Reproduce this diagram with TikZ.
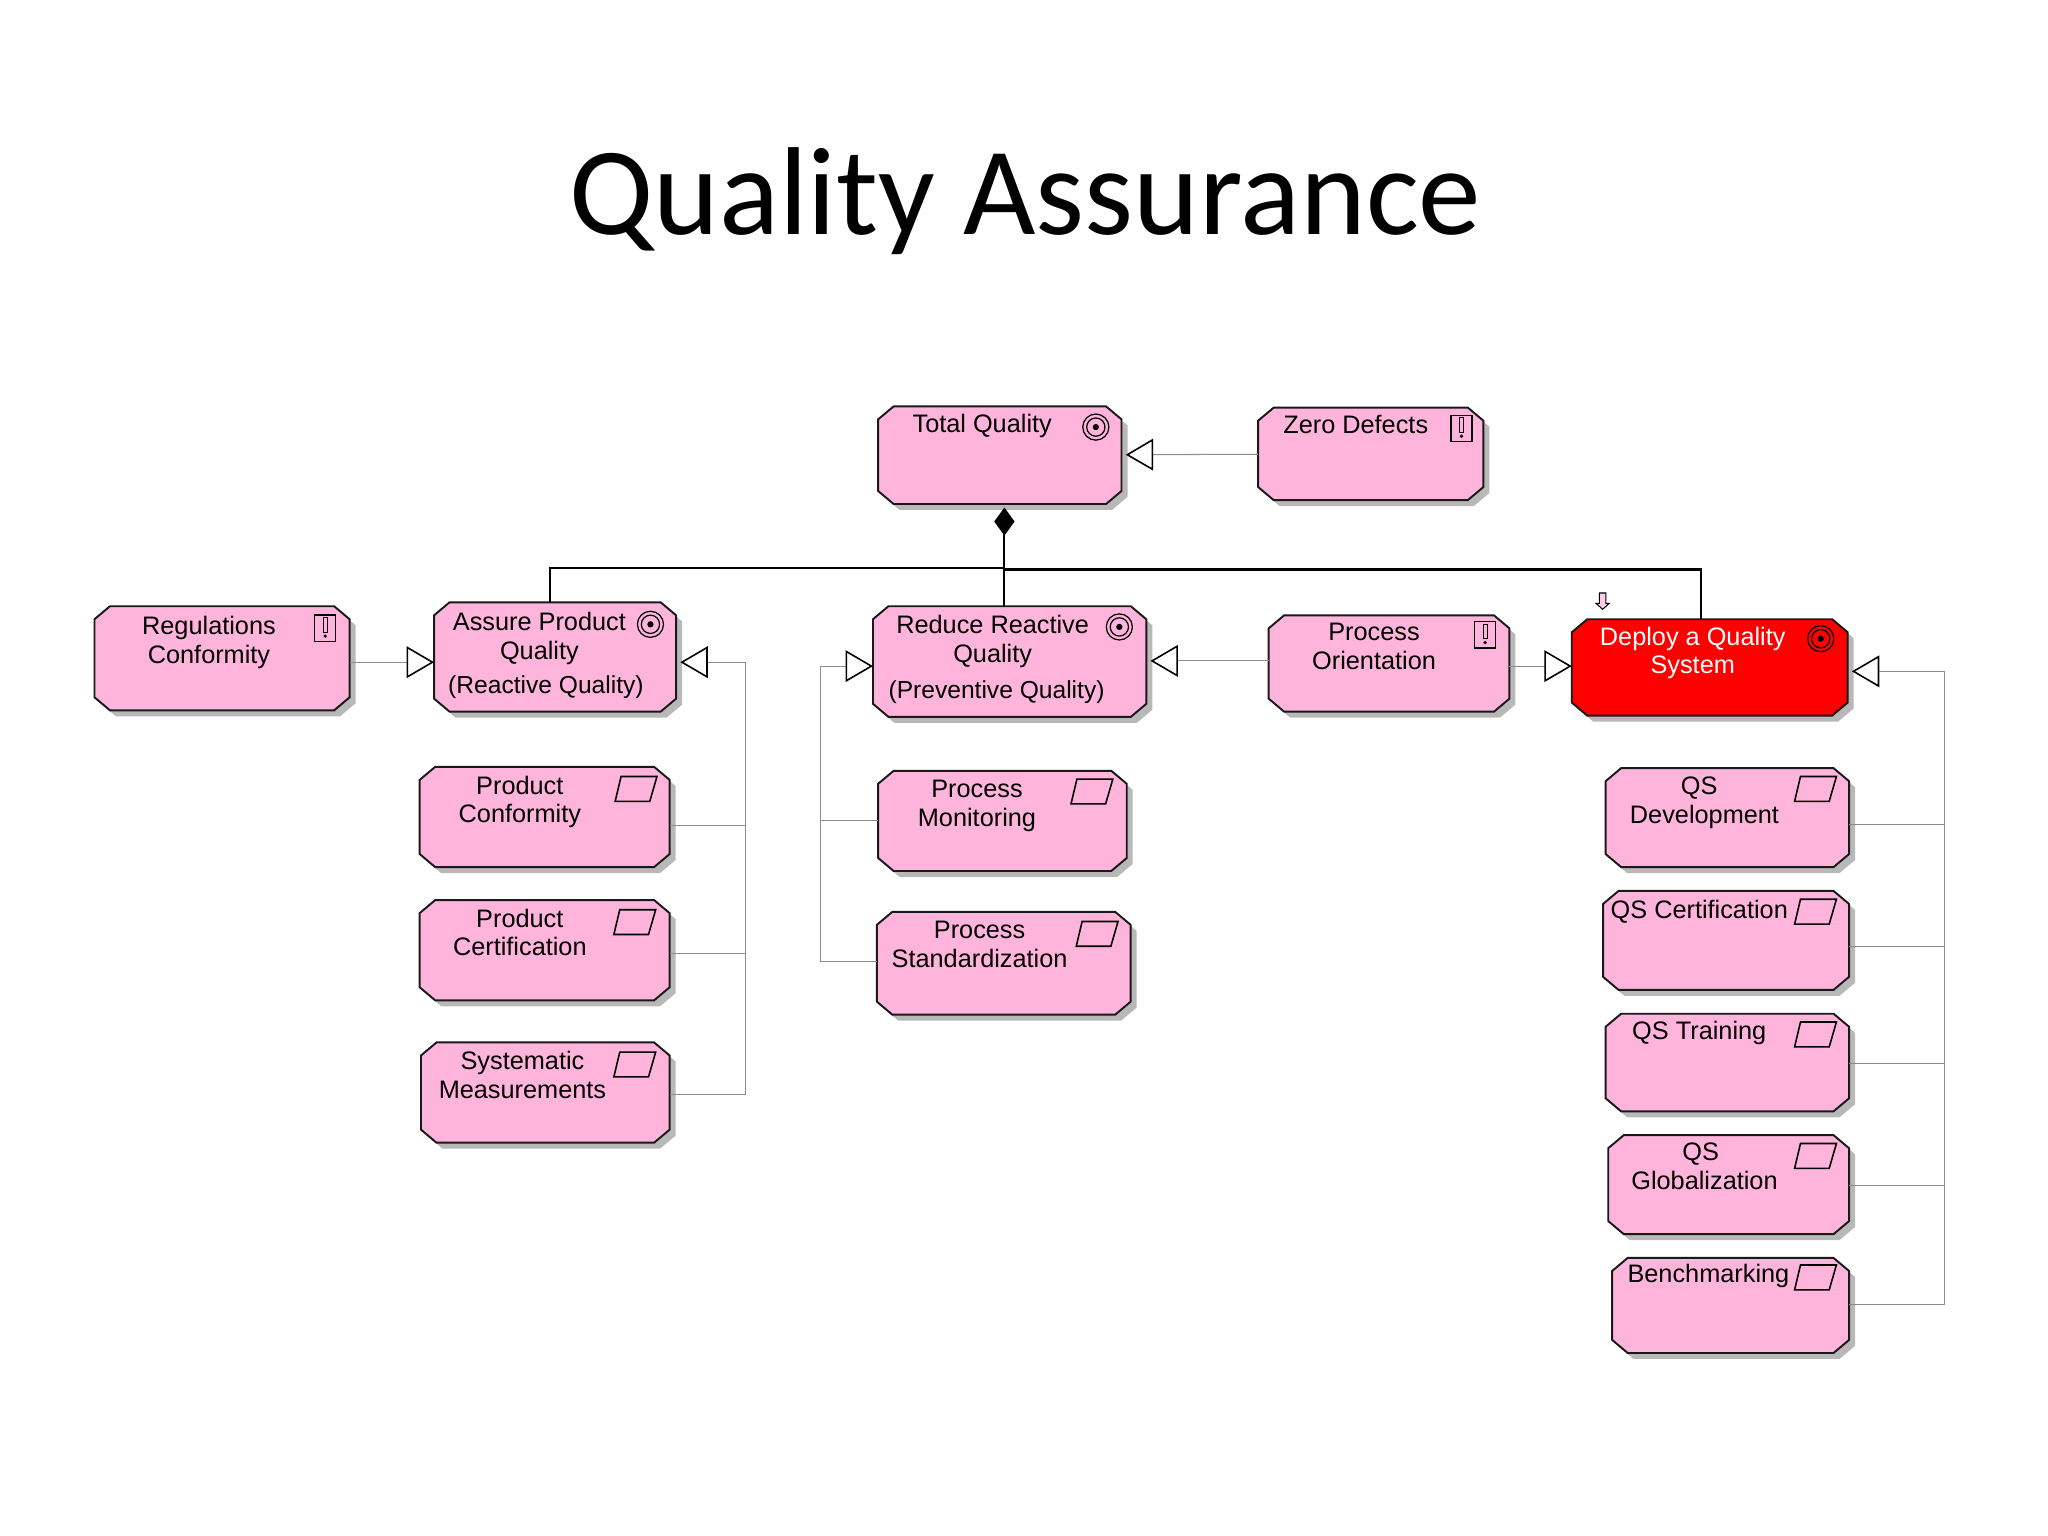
\documentclass[tikz,border=0pt]{standalone}
\usepackage{fontspec}
\setmainfont{Liberation Sans}
\newfontfamily\titlefont{Carlito}
\usetikzlibrary{arrows.meta,shadows}

\definecolor{goalpink}{RGB}{255,181,219}

% Box with cut corners
\makeatletter
\pgfdeclareshape{bevelbox}{
  \inheritsavedanchors[from=rectangle]
  \inheritanchorborder[from=rectangle]
  \inheritanchor[from=rectangle]{center}
  \inheritanchor[from=rectangle]{north}
  \inheritanchor[from=rectangle]{south}
  \inheritanchor[from=rectangle]{east}
  \inheritanchor[from=rectangle]{west}
  \backgroundpath{
    \southwest \pgf@xa=\pgf@x \pgf@ya=\pgf@y
    \northeast \pgf@xb=\pgf@x \pgf@yb=\pgf@y
    \pgfpathmoveto{\pgfqpoint{\pgf@xa}{\dimexpr\pgf@ya+3.7pt}}
    \pgfpathlineto{\pgfqpoint{\dimexpr\pgf@xa+4.4pt}{\pgf@ya}}
    \pgfpathlineto{\pgfqpoint{\dimexpr\pgf@xb-4.4pt}{\pgf@ya}}
    \pgfpathlineto{\pgfqpoint{\pgf@xb}{\dimexpr\pgf@ya+3.7pt}}
    \pgfpathlineto{\pgfqpoint{\pgf@xb}{\dimexpr\pgf@yb-3.7pt}}
    \pgfpathlineto{\pgfqpoint{\dimexpr\pgf@xb-4.4pt}{\pgf@yb}}
    \pgfpathlineto{\pgfqpoint{\dimexpr\pgf@xa+4.4pt}{\pgf@yb}}
    \pgfpathlineto{\pgfqpoint{\pgf@xa}{\dimexpr\pgf@yb-3.7pt}}
    \pgfpathclose
  }
}
\makeatother

\begin{document}
\begin{tikzpicture}[x=0.013061cm,y=-0.013061cm,
    box/.style={shape=bevelbox, draw=black!90, line width=0.55pt, fill=goalpink, inner sep=0pt, outer sep=0pt, drop shadow={shadow xshift=1.7pt, shadow yshift=-1.7pt, fill=black!28, opacity=1}},
    redbox/.style={box, fill=red},
    boxsize/.style 2 args={minimum width=#1*0.3703pt, minimum height=#2*0.3703pt},
    txt/.style={font=\fontsize{7.2}{8.15}\selectfont, align=center, inner sep=0pt, yshift=-0.7pt},
    conn/.style={draw=black!45, line width=0.3pt},
    gen/.style={conn, -{Triangle[length=7.8pt, width=9pt, fill=white, color=black, line width=0.45pt]}},
    genleft/.style={gen, shorten >=1.2pt},
    bus/.style={draw=black, line width=0.6pt},
    partof/.style={bus, -{Diamond[length=8pt, width=5.8pt, color=black]}, shorten >=1pt},
    goalicon/.pic={\draw[line width=0.35pt] (0,0) circle (10) (0,0) circle (7); \fill (0,0) circle (2.4);},
    warnicon/.pic={\draw[line width=0.4pt] (-8,-10) rectangle (8,10); \draw[line width=0.3pt] (-1.5,-8) rectangle (1.5,3); \fill (0,6) circle (1.4);},
    reqicon/.pic={\draw[line width=0.45pt] (-14,9.5) -- (-9.5,-9.5) -- (18,-9.5) -- (12.5,9.5) -- cycle;}]

\useasboundingbox (0,0) rectangle (1568,1176);

% Title
\node[font=\titlefont\fontsize{35.6}{40}\selectfont, inner sep=0pt] (title) at (785,154) {Quality Assurance};

% Goals
\node[box, boxsize={187}{75}] (total) at (765.5,348.5) {};
\node[box, boxsize={173}{71}] (zero) at (1049.5,347.5) {};
\node[box, boxsize={196}{80}] (regulations) at (170,504) {};
\node[box, boxsize={186}{84}] (assure) at (425,503) {};
\node[box, boxsize={210}{85}] (reduce) at (773,506.5) {};
\node[box, boxsize={185}{74}] (orientation) at (1063.5,508) {};
\node[redbox, boxsize={212}{74}] (deploy) at (1309,511) {};

% Left column
\node[box, boxsize={192}{77}] (prodconf) at (417,625.5) {};
\node[box, boxsize={192}{77}] (prodcert) at (417,727.5) {};
\node[box, boxsize={191}{77}] (measure) at (417.5,836.5) {};

% Middle column
\node[box, boxsize={191}{77}] (monitor) at (767.5,628.5) {};
\node[box, boxsize={195}{79}] (standard) at (768.5,737.5) {};

% Right column
\node[box, boxsize={187}{76}] (qsdev) at (1322.5,626) {};
\node[box, boxsize={189}{76}] (qscert) at (1321.5,720) {};
\node[box, boxsize={187}{75}] (qstrain) at (1322.5,813.5) {};
\node[box, boxsize={185}{76}] (qsglob) at (1323.5,907) {};
\node[box, boxsize={182}{73}] (bench) at (1325,999.5) {};

% Texts
\node[txt] (totaltxt) at (752,324) {Total Quality};
\node[txt] (zerotxt) at (1038,323) {Zero Defects};
\node[txt] (regulationstxt) at (160,490) {Regulations\\Conformity};
\node[txt] (assuretxt) at (413,487) {Assure Product\\Quality};
\node[txt, font=\fontsize{7}{8.15}\selectfont] (assuretxtb) at (418,524) {(Reactive Quality)};
\node[txt] (reducetxt) at (760,489) {Reduce Reactive\\Quality};
\node[txt, font=\fontsize{7}{8.15}\selectfont] (reducetxtb) at (763,528) {(Preventive Quality)};
\node[txt] (orientationtxt) at (1052,493) {Process\\Orientation};
\node[txt, text=white] (deploytxt) at (1296,498) {Deploy a Quality\\System};
\node[txt] (prodconftxt) at (398,612) {Product\\Conformity};
\node[txt] (prodcerttxt) at (398,712) {Product\\Certification};
\node[txt] (measuretxt) at (400,821) {Systematic\\Measurements};
\node[txt] (monitortxt) at (748,615) {Process\\Monitoring};
\node[txt] (standardtxt) at (750,721) {Process\\Standardization};
\node[txt] (qsdevtxt) at (1305,613) {QS\hspace*{3pt}\\Development};
\node[txt] (qscerttxt) at (1301,696) {QS Certification};
\node[txt] (qstraintxt) at (1301,789) {QS Training};
\node[txt] (qsglobtxt) at (1305,891) {QS\hspace*{2.2pt}\\Globalization};
\node[txt] (benchtxt) at (1308,975) {Benchmarking};

% Icons
\pic at (839,327) {goalicon};
\pic at (498,478) {goalicon};
\pic at (857,480) {goalicon};
\pic at (1394,489) {goalicon};
\pic at (1119,328) {warnicon};
\pic at (249,481) {warnicon};
\pic at (1137,486) {warnicon};
\pic at (485,604) {reqicon};
\pic at (484,706) {reqicon};
\pic at (484,815) {reqicon};
\pic at (834,606) {reqicon};
\pic at (838,715) {reqicon};
\pic at (1388,604) {reqicon};
\pic at (1388,698) {reqicon};
\pic at (1388,792) {reqicon};
\pic at (1388,885) {reqicon};
\pic at (1388,978) {reqicon};

% Marker above the red goal
\draw[fill=goalpink!70, line width=0.3pt] (1224.5,454) -- (1229.5,454) -- (1229.5,462) -- (1232,462) -- (1227,466.5) -- (1222,462) -- (1224.5,462) -- cycle;

% Bus below Total Quality
\coordinate (hub) at (769,435);
\coordinate (busleft) at (421,435);
\coordinate (busright) at (1302,436);
\draw[partof] (hub) -- (hub |- total.south);
\draw[bus] (assure.north -| busleft) -- (busleft) -- (hub);
\draw[bus] (reduce.north -| hub) -- (hub);
\draw[bus] (deploy.north -| busright) -- (busright) -- (hub |- busright);

% Influence arrows
\draw[genleft] (zero) -- (total);
\coordinate (regline) at (300,507);
\draw[gen] (regulations.east |- regline) -- (assure.west |- regline);
\coordinate (oriline) at (920,506);
\draw[genleft] (orientation.west |- oriline) -- (reduce.east |- oriline);
\coordinate (deployline) at (1180,510);
\draw[gen] (orientation.east |- deployline) -- (deploy.west |- deployline);

% Assure Product Quality branch
\coordinate (abus) at (571,507);
\coordinate (abusa) at (571,632);
\coordinate (abusb) at (571,730);
\coordinate (abusc) at (571,838);
\draw[genleft] (abusc) -- (abus) -- (assure.east |- abus);
\draw[conn] (prodconf.east |- abusa) -- (abusa);
\draw[conn] (prodcert.east |- abusb) -- (abusb);
\draw[conn] (measure.east |- abusc) -- (abusc);

% Reduce Reactive Quality branch
\coordinate (rbus) at (628,510);
\coordinate (rbusa) at (628,628);
\coordinate (rbusb) at (628,736);
\draw[gen] (rbusb) -- (rbus) -- (reduce.west |- rbus);
\draw[conn] (monitor.west |- rbusa) -- (rbusa);
\draw[conn] (standard.west |- rbusb) -- (rbusb);

% Deploy a Quality System branch
\coordinate (dbus) at (1489,514);
\coordinate (dbusa) at (1489,631);
\coordinate (dbusb) at (1489,725);
\coordinate (dbusc) at (1489,814);
\coordinate (dbusd) at (1489,908);
\coordinate (dbuse) at (1489,999);
\draw[genleft] (dbuse) -- (dbus) -- (deploy.east |- dbus);
\draw[conn] (qsdev.east |- dbusa) -- (dbusa);
\draw[conn] (qscert.east |- dbusb) -- (dbusb);
\draw[conn] (qstrain.east |- dbusc) -- (dbusc);
\draw[conn] (qsglob.east |- dbusd) -- (dbusd);
\draw[conn] (bench.east |- dbuse) -- (dbuse);
\end{tikzpicture}
\end{document}
